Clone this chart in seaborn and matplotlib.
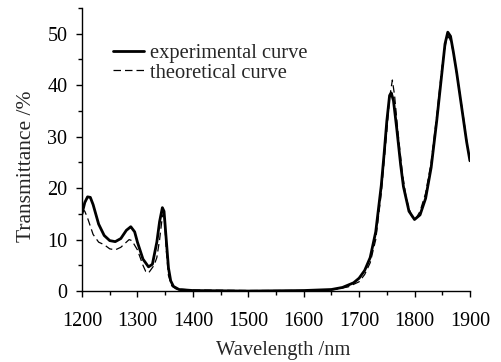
import pandas as pd
import matplotlib
matplotlib.use('Agg')
import matplotlib.pyplot as plt
import seaborn as sns
from matplotlib.ticker import MultipleLocator

# experimental curve
exp_wl = [1200, 1205, 1210, 1215, 1220, 1230, 1240, 1250, 1260, 1270, 1280, 1288,
          1295, 1300, 1310, 1320, 1327, 1335, 1340, 1345, 1348, 1352, 1356, 1360,
          1365, 1375, 1400, 1500, 1600, 1650, 1670, 1690, 1700, 1710, 1720, 1730,
          1740, 1745, 1750, 1755, 1758, 1762, 1768, 1775, 1780, 1790, 1800, 1810,
          1820, 1830, 1840, 1850, 1855, 1860, 1865, 1870, 1876, 1882, 1888, 1894, 1900]
exp_t = [15.0, 17.2, 18.3, 18.2, 16.8, 13.0, 10.8, 9.8, 9.6, 10.2, 11.8, 12.5,
         11.5, 9.5, 6.2, 4.7, 5.2, 9.5, 13.5, 16.2, 15.5, 10.0, 4.5, 2.0,
         0.9, 0.3, 0.1, 0.0, 0.1, 0.3, 0.7, 1.6, 2.5, 4.0, 6.5, 11.5,
         20.5, 26.5, 33.0, 38.0, 38.5, 37.0, 31.5, 24.5, 20.3, 15.5, 13.9, 14.8,
         18.0, 24.0, 33.0, 43.0, 48.0, 50.3, 49.5, 46.5, 42.5, 38.0, 33.5, 29.0, 25.3]

# theoretical curve
th_wl = [1200, 1205, 1210, 1220, 1230, 1240, 1250, 1260, 1270, 1280, 1285, 1290,
         1300, 1310, 1315, 1320, 1330, 1335, 1340, 1345, 1348, 1352, 1356, 1362,
         1370, 1400, 1500, 1600, 1650, 1680, 1700, 1710, 1720, 1730, 1740, 1750,
         1755, 1760, 1764, 1770, 1778, 1785, 1795, 1802, 1810, 1820, 1830, 1840,
         1850, 1857, 1862, 1867, 1872, 1880, 1888, 1895]
th_t = [16.0, 15.5, 14.2, 11.0, 9.5, 9.0, 8.2, 8.0, 8.5, 9.5, 10.0, 9.8,
        8.0, 5.0, 3.8, 3.5, 5.0, 6.5, 10.0, 14.5, 15.5, 8.0, 3.0, 1.0,
        0.4, 0.2, 0.1, 0.1, 0.2, 0.8, 1.8, 3.2, 5.5, 10.0, 19.0, 31.0,
        37.5, 41.0, 38.0, 31.0, 23.0, 18.0, 14.5, 14.0, 15.5, 19.0, 25.0, 34.0,
        44.0, 48.5, 49.5, 48.0, 45.0, 39.5, 34.0, 28.5]

exp_df = pd.DataFrame({'wl': exp_wl, 't': exp_t})
th_df = pd.DataFrame({'wl': th_wl, 't': th_t})

sns.set_style('ticks')
plt.rcParams['font.family'] = ['Liberation Serif', 'DejaVu Serif']
plt.rcParams['font.size'] = 14

fig = plt.figure(figsize=(5.01, 3.62), dpi=100)
ax = fig.add_axes([0.1637, 0.196, 0.7743, 0.782])

sns.lineplot(data=exp_df, x='wl', y='t', ax=ax, color='black', linewidth=2.0,
             label='experimental curve')
sns.lineplot(data=th_df, x='wl', y='t', ax=ax, color='black', linewidth=0.9,
             linestyle=(0, (6, 3.2)), label='theoretical curve')

ax.set_xlim(1200, 1900)
ax.set_ylim(0, 55)
ax.xaxis.set_major_locator(MultipleLocator(100))
ax.xaxis.set_minor_locator(MultipleLocator(50))
ax.yaxis.set_major_locator(MultipleLocator(10))
ax.yaxis.set_minor_locator(MultipleLocator(5))
ax.tick_params(which='major', length=4, width=1, labelsize=14.5, color='black', labelcolor='black')
ax.tick_params(which='minor', length=3, width=1, color='black')
ax.tick_params(axis='x', pad=11)
ax.tick_params(axis='y', pad=6.5)
for s in ['left', 'bottom']:
    ax.spines[s].set_color('black')
    ax.spines[s].set_linewidth(1)
sns.despine(ax=ax)

ax.set_xlabel('Wavelength /nm', fontsize=14.8, labelpad=7, x=0.518)
ax.set_ylabel('Transmittance /%', fontsize=15.5, labelpad=8, y=0.442)

ax.legend(loc='upper left', bbox_to_anchor=(0.032, 0.94), frameon=False,
          fontsize=14.8, handlelength=1.5, handletextpad=0.3, labelspacing=0.02)

fig.savefig('out.png', dpi=100)
